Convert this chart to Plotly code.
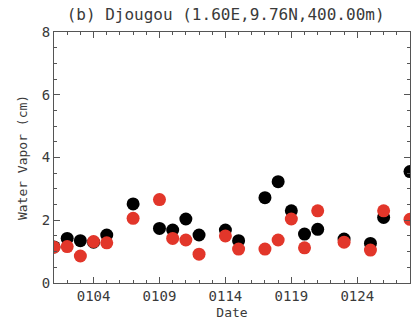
import plotly.graph_objects as go

# Day of January for each observation
days = [1, 2, 3, 4, 5, 7, 9, 10, 11, 12, 14, 15, 17, 18, 19, 20, 21, 23, 25, 26, 28]

# Water vapor (cm), two retrievals
vapor_black = [1.15, 1.42, 1.35, 1.30, 1.53, 2.52, 1.74, 1.69, 2.04, 1.53, 1.69, 1.35,
               2.72, 3.23, 2.30, 1.56, 1.71, 1.40, 1.26, 2.09, 3.55]
vapor_red = [1.14, 1.16, 0.86, 1.32, 1.28, 2.06, 2.66, 1.42, 1.37, 0.92, 1.50, 1.08,
             1.08, 1.37, 2.04, 1.12, 2.30, 1.30, 1.05, 2.30, 2.03]

tick_days = [4, 9, 14, 19, 24]
tick_text = ["0104", "0109", "0114", "0119", "0124"]
y_ticks = [0, 2, 4, 6, 8]

title = "(b) Djougou (1.60E,9.76N,400.00m)"
FONT = "DejaVu Sans Mono"
TXT = "#3a3a3a"

fig = go.Figure()
fig.add_trace(go.Scatter(x=days, y=vapor_black, mode="markers",
                         marker=dict(color="black", size=13, line=dict(width=0)),
                         cliponaxis=True, showlegend=False))
fig.add_trace(go.Scatter(x=days, y=vapor_red, mode="markers",
                         marker=dict(color="#e2362a", size=13, line=dict(width=0)),
                         cliponaxis=True, showlegend=False))

axis_common = dict(showgrid=False, zeroline=False, showline=True, linecolor="#555",
                   linewidth=1, mirror="allticks", ticks="inside", tickcolor="#555",
                   ticklen=6, tickwidth=1, tickfont=dict(family=FONT, size=14, color=TXT))

fig.update_xaxes(range=[1, 28], tickvals=tick_days, ticktext=tick_text,
                 minor=dict(dtick=1, ticks="inside", ticklen=3, tickcolor="#555"),
                 title=dict(text="Date", font=dict(family=FONT, size=13, color=TXT), standoff=5),
                 **axis_common)
fig.update_yaxes(range=[0, 8], tickvals=y_ticks,
                 minor=dict(dtick=0.5, ticks="inside", ticklen=3, tickcolor="#555"),
                 title=dict(text="Water Vapor (cm)", font=dict(family=FONT, size=13, color=TXT), standoff=11),
                 **axis_common)

fig.update_layout(
    width=411, height=330,
    margin=dict(l=54, r=1, t=32, b=47),
    paper_bgcolor="white", plot_bgcolor="white",
    font=dict(family=FONT, color=TXT),
    title=dict(text=title, x=0.482, xanchor="center", xref="paper",
               y=1, yref="container", yanchor="top", pad=dict(t=9),
               font=dict(family=FONT, size=16, color=TXT)),
)

fig.write_html("out.html")
